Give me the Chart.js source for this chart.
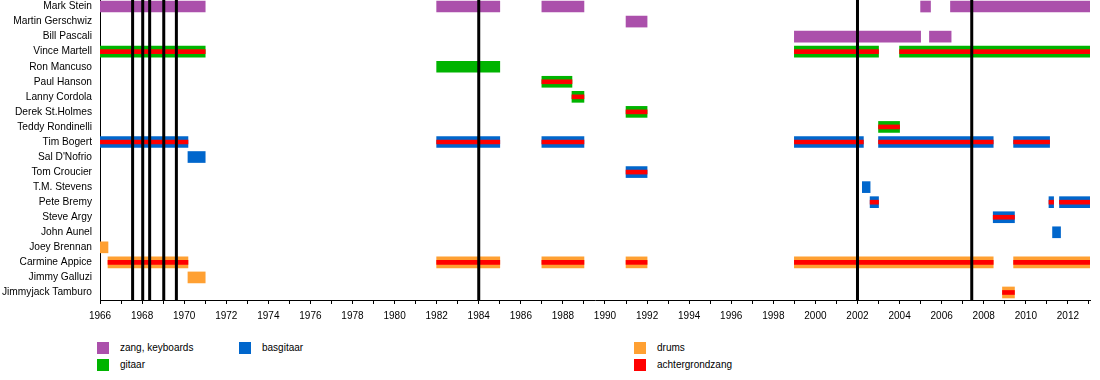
<!DOCTYPE html>
<html><head><meta charset="utf-8">
<script src="https://cdn.jsdelivr.net/npm/chart.js@4/dist/chart.umd.min.js"></script>
<style>
html,body{margin:0;padding:0;background:#fff;width:1100px;height:380px;overflow:hidden;font-family:"Liberation Sans",Arial,sans-serif;}
#wrap{position:absolute;left:0;top:-1px;width:1100px;height:331px;}
.lg{position:absolute;height:12px;font-size:10px;line-height:12px;color:#000;white-space:nowrap;}
.lg span{position:absolute;left:0;top:0;width:12px;height:12px;}
.lg b{position:absolute;left:23px;top:0;font-weight:normal;}
</style></head>
<body>
<div id="wrap"><canvas id="c" width="1100" height="331"></canvas></div>
<div id="legend"></div>
<script>
const members = ['Mark Stein','Martin Gerschwiz','Bill Pascali','Vince Martell','Ron Mancuso','Paul Hanson','Lanny Cordola','Derek St.Holmes','Teddy Rondinelli','Tim Bogert','Sal D\'Nofrio','Tom Croucier','T.M. Stevens','Pete Bremy','Steve Argy','John Aunel','Joey Brennan','Carmine Appice','Jimmy Galluzi','Jimmyjack Tamburo'];

const roleNames = ['zang, keyboards','gitaar','basgitaar','drums','achtergrondzang'];
const roleColors = ['#AB50AB','#00B400','#0066CC','#FFA032','#FF0000'];

const timelineStart = 1966;
const timelineEnd = 2013.05;

const zangKeyboards = [
  ['Mark Stein',1966,1971],['Mark Stein',1982,1985],['Mark Stein',1987,1989],
  ['Mark Stein',2005,2005.47],['Mark Stein',2006.42,2013.05],
  ['Martin Gerschwiz',1991,1992],
  ['Bill Pascali',1999,2005],['Bill Pascali',2005.42,2006.45]
];
const gitaar = [
  ['Vince Martell',1966,1971],['Vince Martell',1999,2003],['Vince Martell',2004,2013.05],
  ['Ron Mancuso',1982,1985],
  ['Paul Hanson',1987,1988.43],
  ['Lanny Cordola',1988.43,1989],
  ['Derek St.Holmes',1991,1992],
  ['Teddy Rondinelli',2003,2004]
];
const basgitaar = [
  ['Tim Bogert',1966,1970.18],['Tim Bogert',1982,1985],['Tim Bogert',1987,1989],
  ['Tim Bogert',1999,2002.28],['Tim Bogert',2003,2008.45],['Tim Bogert',2009.42,2011.13],
  ['Sal D\'Nofrio',1970.18,1971],
  ['Tom Croucier',1991,1992],
  ['T.M. Stevens',2002.23,2002.6],
  ['Pete Bremy',2002.6,2003],['Pete Bremy',2011.1,2011.32],['Pete Bremy',2011.6,2013.05],
  ['Steve Argy',2008.45,2009.46],
  ['John Aunel',2011.27,2011.65]
];
const drums = [
  ['Joey Brennan',1966,1966.38],
  ['Carmine Appice',1966.38,1970.18],['Carmine Appice',1982,1985],['Carmine Appice',1987,1989],
  ['Carmine Appice',1991,1992],['Carmine Appice',1999,2008.45],['Carmine Appice',2009.42,2013.05],
  ['Jimmy Galluzi',1970.18,1971],
  ['Jimmyjack Tamburo',2008.89,2009.46]
];
const achtergrondzang = [
  ['Vince Martell',1966,1971],['Vince Martell',1999,2003],['Vince Martell',2004,2013.05],
  ['Paul Hanson',1987,1988.43],
  ['Lanny Cordola',1988.43,1989],
  ['Derek St.Holmes',1991,1992],
  ['Teddy Rondinelli',2003,2004],
  ['Tim Bogert',1966,1970.18],['Tim Bogert',1982,1985],['Tim Bogert',1987,1989],
  ['Tim Bogert',1999,2002.28],['Tim Bogert',2003,2008.45],['Tim Bogert',2009.42,2011.13],
  ['Tom Croucier',1991,1992],
  ['Pete Bremy',2002.6,2003],['Pete Bremy',2011.1,2011.32],['Pete Bremy',2011.6,2013.05],
  ['Steve Argy',2008.45,2009.46],
  ['Carmine Appice',1966.38,1970.18],['Carmine Appice',1982,1985],['Carmine Appice',1987,1989],
  ['Carmine Appice',1991,1992],['Carmine Appice',1999,2008.45],['Carmine Appice',2009.42,2013.05],
  ['Jimmyjack Tamburo',2008.89,2009.46]
];
const albumReleases = [1967.55,1968.03,1968.36,1969.03,1969.63,1984.0,2002.0,2007.43];

function barSet(label, periods, color, thickness, order){
  return {
    label, backgroundColor: color, borderWidth: 0, borderSkipped: false,
    barThickness: thickness, grouped: false, order,
    data: periods.map(p => ({y: p[0], x: [p[1], p[2]]}))
  };
}

const albumLines = {
  id: 'albumLines',
  afterDatasetsDraw(chart){
    const {ctx, chartArea: a, scales: {x}} = chart;
    ctx.save();
    ctx.strokeStyle = '#000';
    ctx.lineWidth = 3;
    albumReleases.forEach(v => {
      const px = x.getPixelForValue(v);
      ctx.beginPath(); ctx.moveTo(px, a.top); ctx.lineTo(px, a.bottom); ctx.stroke();
    });
    ctx.restore();
  }
};

Chart.defaults.font.family = '"Liberation Sans", Arial, sans-serif';
Chart.defaults.font.size = 10;
Chart.defaults.color = '#000';

new Chart(document.getElementById('c'), {
  type: 'bar',
  data: {
    labels: members,
    datasets: [
      barSet(roleNames[4], achtergrondzang, roleColors[4], 4, 0),
      barSet(roleNames[0], zangKeyboards, roleColors[0], 11, 1),
      barSet(roleNames[1], gitaar, roleColors[1], 11, 1),
      barSet(roleNames[2], basgitaar, roleColors[2], 11, 1),
      barSet(roleNames[3], drums, roleColors[3], 11, 1)
    ]
  },
  options: {
    indexAxis: 'y',
    responsive: false,
    animation: false,
    layout: {padding: {left: 0, right: 10, top: 0, bottom: 0}},
    plugins: {legend: {display: false}, tooltip: {enabled: false}},
    scales: {
      x: {
        type: 'linear', min: timelineStart, max: timelineEnd,
        grid: {drawOnChartArea: false, drawTicks: true, tickLength: 4, tickColor: '#000'},
        border: {display: true, color: '#000', width: 1},
        ticks: {
          stepSize: 1, autoSkip: false, includeBounds: false, maxRotation: 0, padding: 6,
          color: '#000', font: {size: 10},
          callback: v => (Number.isInteger(v) && v % 2 === 0) ? String(v) : ''
        },
        afterFit: s => { s.height = 30; s.paddingLeft = 0; s.paddingRight = 0; }
      },
      y: {
        type: 'category',
        grid: {display: false, drawTicks: false},
        border: {display: true, color: '#000', width: 1},
        ticks: {padding: 8, color: '#000', font: {size: 10.2}, autoSkip: false},
        afterFit: s => { s.width = 100; s.paddingTop = 0; s.paddingBottom = 0; }
      }
    }
  },
  plugins: [albumLines]
});

// HTML legend built from the role arrays
const legendSlots = [[97,342],[97,359],[239,342],[634,342],[634,359]];
const lg = document.getElementById('legend');
roleNames.forEach((name, i) => {
  const d = document.createElement('div');
  d.className = 'lg';
  d.style.left = legendSlots[i][0] + 'px';
  d.style.top = legendSlots[i][1] + 'px';
  const sw = document.createElement('span');
  sw.style.background = roleColors[i];
  const t = document.createElement('b');
  t.textContent = name;
  d.appendChild(sw); d.appendChild(t);
  lg.appendChild(d);
});
</script>
</body></html>
